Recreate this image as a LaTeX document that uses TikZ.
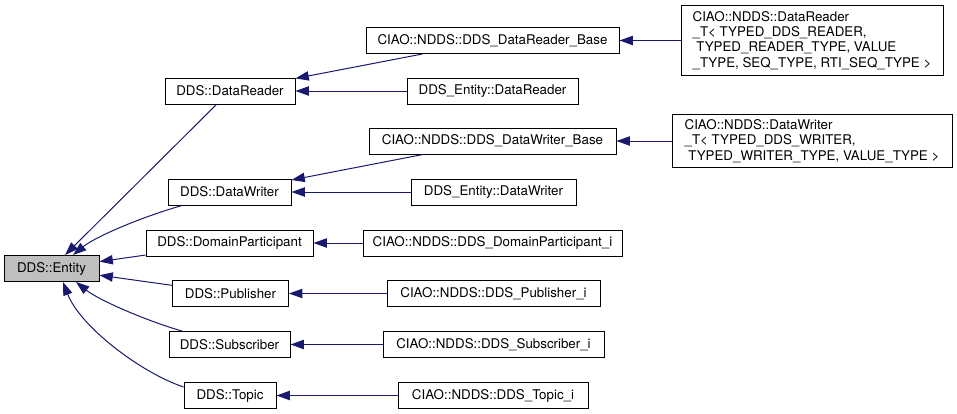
\documentclass[tikz,border=0pt]{standalone}
\usepackage{fontspec}
\setmainfont{TeX Gyre Heros}
\usepackage{tikz}
\usetikzlibrary{calc}
\usetikzlibrary{arrows.meta}
\definecolor{midnightblue}{RGB}{25,25,112}

\begin{document}
\begin{tikzpicture}[x=0.75pt, y=0.75pt,
  cls/.style={draw=black, line width=0.75pt, fill=white, inner sep=0pt, minimum height=19.5pt, font=\fontsize{10}{11.5}\selectfont},
  dep/.style={draw=midnightblue, line width=0.75pt, -{Triangle[length=10pt,width=7pt]}}]

 \useasboundingbox (0,0) rectangle (957,-414);

 % base class
 \node[cls, fill=black!25, minimum width=95*0.75pt] (entity) at (51.5,-268.5) {DDS::Entity};

 %level 1
 \foreach \n/\x/\y/\w/\name in {reader/230/91/130/DDS::DataReader, writer/229.5/192/123/DDS::DataWriter,
        participant/229.5/243/167/DDS::DomainParticipant, publisher/230.5/293.5/116/DDS::Publisher,
        subscriber/229.5/344.5/121/DDS::Subscriber, topic/230/395.5/92/DDS::Topic} {
         \node[cls, minimum width=\w*0.75pt] (\n) at (\x,-\y) {\name};
 }

 %level 2
 \foreach \n/\x/\y/\w/\name in {readerbase/492.5/40.5/253/CIAO::NDDS::DDS\_DataReader\_Base,
        entreader/492.5/91/171/DDS\_Entity::DataReader,
        writerbase/492.5/141/247/CIAO::NDDS::DDS\_DataWriter\_Base,
        entwriter/493.5/192/165/DDS\_Entity::DataWriter,
        participanti/492.5/243/259/CIAO::NDDS::DDS\_DomainParticipant\_i,
        publisheri/493.5/293.5/213/CIAO::NDDS::DDS\_Publisher\_i,
        subscriberi/493.5/344.5/221/CIAO::NDDS::DDS\_Subscriber\_i,
        topici/493/395.5/190/CIAO::NDDS::DDS\_Topic\_i} {
         \node[cls, minimum width=\w*0.75pt] (\n) at (\x,-\y) {\name};
 }

 %level 3
 \node[cls, align=left, minimum width=262*0.75pt, minimum height=70*0.75pt] (readerT) at (812,-40.5)
   {CIAO::NDDS::DataReader\\\_T< TYPED\_DDS\_READER,\\\hspace*{0.28em}TYPED\_READER\_TYPE, VALUE\\\_TYPE, SEQ\_TYPE, RTI\_SEQ\_TYPE >};
 \node[cls, align=left, minimum width=280*0.75pt, minimum height=53*0.75pt] (writerT) at (812,-141)
   {CIAO::NDDS::DataWriter\\\_T< TYPED\_DDS\_WRITER,\\\hspace*{0.28em}TYPED\_WRITER\_TYPE, VALUE\_TYPE >};

 % lines
 \foreach \a/\b in {readerbase/reader, entreader/reader, writerbase/writer, entwriter/writer,
        readerT/readerbase, writerT/writerbase, participanti/participant, publisheri/publisher,
        subscriberi/subscriber, topici/topic, reader/entity, participant/entity, publisher/entity}
 	\path[dep] (\a) -- (\b);

 \path[dep] ($(writer.south)+(-47.5,0)$) .. controls +(-42,-12) and +(22,18) .. ($(entity.north)+(21.5,0)$);
 \path[dep] ($(subscriber.north)+(-47.5,0)$) .. controls +(-32,9) and +(24,-19) .. ($(entity.south)+(24.5,0)$);
 \path[dep] ($(topic.west)+(0,8.5)$) .. controls +(-44,15) and +(17,-44) .. ($(entity.south)+(11.5,0)$);

\end{tikzpicture}
\end{document}
